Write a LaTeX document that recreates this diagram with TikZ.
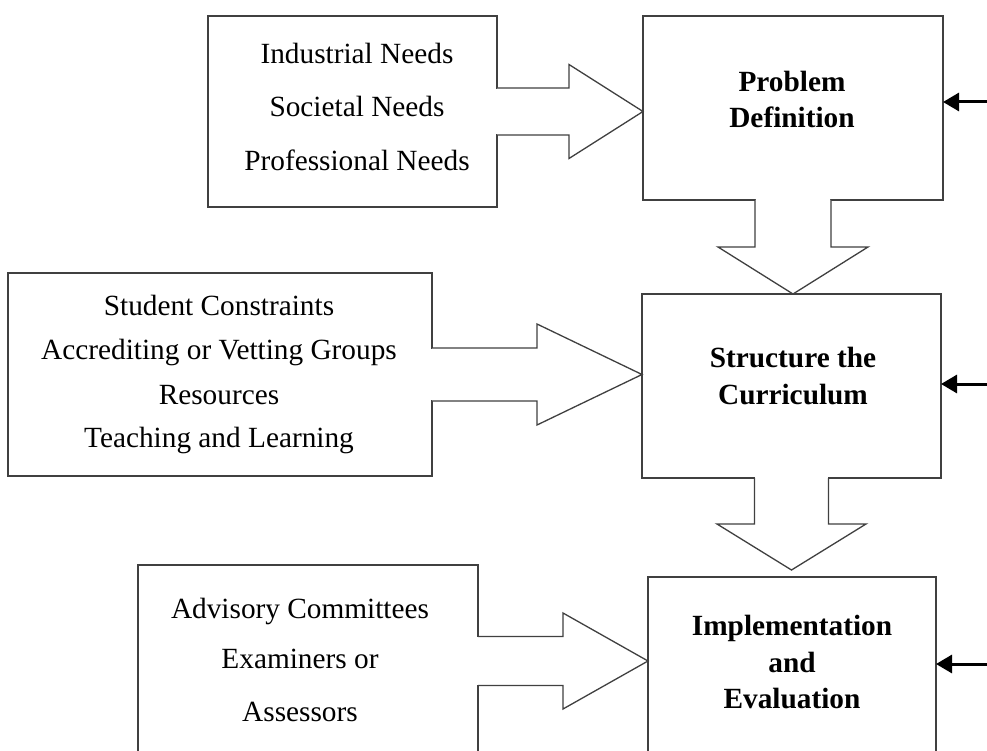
\documentclass[tikz,border=0pt]{standalone}
\usepackage{fontspec}
\setmainfont{Liberation Serif}
\usetikzlibrary{arrows.meta,calc}
\begin{document}
\begin{tikzpicture}[x=1pt,y=-1pt,
  boxline/.style={draw=black!75, line width=1.3pt},
  boxnode/.style={boxline, fill=white, rectangle, inner sep=0pt, outer sep=0pt},
  txt/.style={anchor=base, inner sep=0pt, font=\fontsize{29.3}{32}\selectfont},
  btxt/.style={anchor=base, inner sep=0pt, font=\fontsize{29.3}{32}\selectfont\bfseries},
  fb/.style={-{Triangle[length=16pt,width=18pt]}, line width=3pt, black}
]
\useasboundingbox (0,0) rectangle (987,751);
\clip (0,0) rectangle (987,751);
\fill[white] (0,0) rectangle (987,751);

% boxes
\node[boxnode, minimum width=289pt, minimum height=191pt] (needs) at (352.5,111.5) {};
\node[boxnode, minimum width=300pt, minimum height=184pt] (prob) at (793,108) {};
\node[boxnode, minimum width=424pt, minimum height=203pt] (stud) at (220,374.5) {};
\node[boxnode, minimum width=299pt, minimum height=184pt] (struct) at (791.5,386) {};
\node[boxnode, minimum width=340pt, minimum height=192pt] (adv) at (308,661) {};
\node[boxnode, minimum width=288pt, minimum height=190pt] (impl) at (792,672) {};

% openings where the block arrows leave the boxes
\fill[white] ($(needs.east)+(-2,-22.8)$) rectangle ($(needs.east)+(2,22.8)$);
\fill[white] ($(prob.south)+(-37.3,-2)$) rectangle ($(prob.south)+(37.3,2)$);
\fill[white] ($(stud.east)+(-2,-25.8)$) rectangle ($(stud.east)+(2,25.8)$);
\fill[white] ($(struct.south)+(-36.3,-2)$) rectangle ($(struct.south)+(36.3,2)$);
\fill[white] ($(adv.east)+(-2,-23.8)$) rectangle ($(adv.east)+(2,23.8)$);

% block arrows
\draw[boxline, fill=white] ($(needs.east)+(0,-23.5)$) -- ++(72,0) -- ++(0,-23.5)
  -- (prob.west |- needs.east) -- ($(needs.east)+(72,47)$) -- ++(0,-23.5)
  -- ($(needs.east)+(0,23.5)$);
\draw[boxline, fill=white] ($(prob.south)+(-38,0)$) -- ++(0,47) -- ++(-37,0)
  -- (prob.south |- struct.north) -- ($(prob.south)+(75,47)$) -- ++(-37,0)
  -- ($(prob.south)+(38,0)$);
\draw[boxline, fill=white] ($(stud.east)+(0,-26.5)$) -- ++(105,0) -- ++(0,-24)
  -- (struct.west |- stud.east) -- ($(stud.east)+(105,50.5)$) -- ++(0,-24)
  -- ($(stud.east)+(0,26.5)$);
\draw[boxline, fill=white] ($(struct.south)+(-37,0)$) -- ++(0,46) -- ++(-37.5,0)
  -- ($(struct.south)+(0,92)$) -- ($(struct.south)+(74.5,46)$) -- ++(-37.5,0)
  -- ($(struct.south)+(37,0)$);
\draw[boxline, fill=white] ($(adv.east)+(0,-24.5)$) -- ++(85,0) -- ++(0,-23.5)
  -- (impl.west |- adv.east) -- ($(adv.east)+(85,48)$) -- ++(0,-23.5)
  -- ($(adv.east)+(0,24.5)$);

% feedback arrows from the right
\coordinate (r1) at (992,102);
\coordinate (r2) at (992,384);
\coordinate (r3) at (992,664);
\draw[fb] (r1) -- (r1 -| prob.east);
\draw[fb] (r2) -- (r2 -| struct.east);
\draw[fb] (r3) -- (r3 -| impl.east);

% texts
\node[txt] (t1) at (357,64) {Industrial Needs};
\node[txt] (t2) at (357,117) {Societal Needs};
\node[txt] (t3) at (357,171) {Professional Needs};

\node[btxt] (p1) at (792,92) {Problem};
\node[btxt] (p2) at (792,128) {Definition};

\node[txt] (s1) at (219,315) {Student Constraints};
\node[txt] (s2) at (219,359) {Accrediting or Vetting Groups};
\node[txt] (s3) at (219,404) {Resources};
\node[txt] (s4) at (219,447) {Teaching and Learning};

\node[btxt] (c1) at (793,367) {Structure the};
\node[btxt] (c2) at (793,404) {Curriculum};

\node[txt] (a1) at (300,618) {Advisory Committees};
\node[txt] (a2) at (300,668) {Examiners or};
\node[txt] (a3) at (300,721) {Assessors};

\node[btxt] (i1) at (792,635) {Implementation};
\node[btxt] (i2) at (792,672) {and};
\node[btxt] (i3) at (792,708) {Evaluation};
\end{tikzpicture}
\end{document}
